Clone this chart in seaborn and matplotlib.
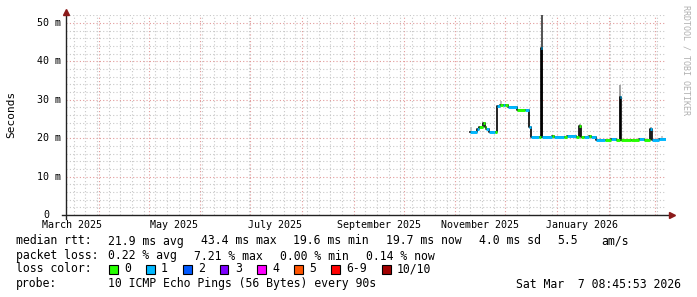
import matplotlib
matplotlib.use("Agg")
import matplotlib.pyplot as plt
import matplotlib.patches as mpatches
import seaborn as sns
import pandas as pd

# ---------------- data ----------------
START = "2025-03-12 08:45:53"
END = "2026-03-07 08:45:53"

seg_start = [
    "2025-11-09 20:00", "2025-11-14 05:00", "2025-11-15 10:00", "2025-11-17 19:00",
    "2025-11-19 00:00", "2025-11-19 14:00", "2025-11-21 10:00", "2025-11-25 00:00",
    "2025-11-26 05:00", "2025-11-27 17:00", "2025-11-29 12:00", "2025-12-01 00:00",
    "2025-12-02 19:00", "2025-12-08 05:00", "2025-12-13 00:00", "2025-12-15 10:00",
    "2025-12-16 14:00", "2025-12-21 10:00", "2025-12-22 06:00", "2025-12-23 06:00",
    "2025-12-29 05:00", "2025-12-30 10:00", "2026-01-05 10:00", "2026-01-07 05:00",
    "2026-01-12 14:00", "2026-01-14 10:00", "2026-01-15 14:00", "2026-01-17 10:00",
    "2026-01-20 10:00", "2026-01-21 14:00", "2026-01-24 14:00", "2026-01-30 00:00",
    "2026-02-02 14:00", "2026-02-05 14:00", "2026-02-07 17:00", "2026-02-08 07:00",
    "2026-02-14 14:00", "2026-02-19 10:00", "2026-02-22 10:00", "2026-02-26 00:00",
    "2026-02-27 05:00", "2026-03-03 10:00",
]
seg_median = [
    21.5, 22.4, 23.0, 23.9,
    23.0, 22.5, 21.5, 21.5,
    28.4, 28.7, 28.6, 28.6,
    28.0, 27.3, 27.3, 23.0,
    20.4, 20.4, 43.4, 20.4,
    20.5, 20.4, 20.4, 20.5,
    20.4, 23.3, 20.4, 20.4,
    20.5, 20.4, 19.6, 19.6,
    19.7, 19.6, 30.8, 19.6,
    19.6, 19.7, 19.6, 22.5,
    19.6, 19.7,
]
seg_loss = [
    "1", "1", "0", "0",
    "0", "1", "1", "0",
    "1", "0", "1", "0",
    "1", "0", "1", "1",
    "1", "0", "1", "1",
    "0", "1", "0", "1",
    "0", "0", "0", "1",
    "0", "1", "1", "0",
    "1", "0", "1", "0",
    "0", "1", "0", "1",
    "1", "1",
]

smoke_time = ["2025-11-10 06:00", "2025-11-28 12:00", "2025-12-22 18:00",
              "2026-01-14 20:00", "2026-02-08 00:00", "2026-02-26 12:00",
              "2026-03-05 00:00"]
smoke_low = [21.5, 28.7, 20.4, 20.4, 19.6, 19.6, 19.7]
smoke_high = [23.0, 29.8, 52.0, 23.6, 33.9, 22.8, 20.6]
smoke_shade = ["#bbbbbb", "#aaaaaa", "#222222", "#999999", "#888888", "#999999", "#bbbbbb"]

y_ticks = [0, 10, 20, 30, 40, 50]
y_tick_labels = ["0", "10 m", "20 m", "30 m", "40 m", "50 m"]
x_label_pos = ["2025-03-16", "2025-05-16", "2025-07-16", "2025-09-16",
               "2025-11-16", "2026-01-16"]
x_label_text = ["March 2025", "May 2025", "July 2025", "September 2025",
                "November 2025", "January 2026"]

loss_names = ["0", "1", "2", "3", "4", "5", "6-9", "10/10"]
loss_colors = ["#26ff00", "#00b8ff", "#0059ff", "#7e00ff", "#ff00ff",
               "#ff5500", "#ff0000", "#a10000"]

rtt_stats = ["21.9 ms avg", "43.4 ms max", "19.6 ms min", "19.7 ms now",
             "4.0 ms sd", "5.5", "am/s"]
loss_stats = ["0.22 % avg", "7.21 % max", "0.00 % min", "0.14 % now"]
probe_text = "10 ICMP Echo Pings (56 Bytes) every 90s"
stamp_text = "Sat Mar  7 08:45:53 2026"

# ---------------- figure ----------------
plt.rcParams["font.family"] = ["DejaVu Sans Mono"]
W, H = 697, 297
fig = plt.figure(figsize=(W / 100, H / 100), dpi=100)
fig.patch.set_facecolor("white")
ax = fig.add_axes([66 / W, 82 / H, 600 / W, 200 / H])
ax.set_facecolor("white")

t0, t1 = pd.Timestamp(START), pd.Timestamp(END)
ax.set_xlim(t0, t1)
ax.set_ylim(0, 52.08)

# grid
month_starts = pd.date_range("2025-04-01", "2026-03-01", freq="MS")
mondays = pd.date_range("2025-03-17", "2026-03-07", freq="W-MON")
ax.set_xticks(month_starts)
ax.set_xticks(mondays, minor=True)
ax.set_yticks(y_ticks)
ax.set_yticks(range(0, 53, 2), minor=True)
ax.tick_params(which="both", length=0, labelbottom=False, labelleft=False)
ax.grid(which="minor", color="#c8c8c8", linestyle=(0, (1, 2)), lw=0.8)
ax.grid(which="major", color="#e29a9a", linestyle=(0, (1, 2)), lw=0.8)
ax.set_axisbelow(True)
for s in ax.spines.values():
    s.set_visible(False)

# smoke
ax.vlines(pd.to_datetime(smoke_time, format="mixed"), smoke_low, smoke_high,
          colors=smoke_shade, lw=1.1, zorder=2)

# median step line (black connectors)
times = pd.to_datetime(seg_start + [END], format="mixed")
df_med = pd.DataFrame({"time": times, "rtt": seg_median + [seg_median[-1]]})
sns.lineplot(data=df_med, x="time", y="rtt", drawstyle="steps-post", color="black",
             lw=1.2, estimator=None, ax=ax, zorder=3)

# loss-coloured median segments
rows = []
for i, (v, l) in enumerate(zip(seg_median, seg_loss)):
    rows.append({"seg": i, "time": times[i], "rtt": v, "loss": l})
    rows.append({"seg": i, "time": times[i + 1], "rtt": v, "loss": l})
df_seg = pd.DataFrame(rows)
sns.lineplot(data=df_seg, x="time", y="rtt", hue="loss", units="seg", estimator=None,
             palette={"0": loss_colors[0], "1": loss_colors[1]}, lw=2.1,
             legend=False, ax=ax, zorder=4, solid_capstyle="butt")
ax.set_xlabel("")
ax.set_ylabel("")

# axes lines and arrows
ax.plot([0, 0], [-0.02, 1.0], transform=ax.transAxes, color="#222222", lw=1,
        clip_on=False, zorder=5)
ax.plot([-0.007, 1.005], [0, 0], transform=ax.transAxes, color="#222222", lw=1,
        clip_on=False, zorder=5)
ax.plot([0], [1.015], marker="^", transform=ax.transAxes, color="#8b1a1a",
        markersize=4, clip_on=False, zorder=6)
ax.plot([1.01], [0], marker=">", transform=ax.transAxes, color="#8b1a1a",
        markersize=4, clip_on=False, zorder=6)

# y tick labels
ytr = ax.get_yaxis_transform()
for v, lab in zip(y_ticks, y_tick_labels):
    if lab == "0":
        ax.text((46 - 66) / 600, v, lab, transform=ytr, ha="center",
                va="center", fontsize=7.2, color="black")
    else:
        ax.text((61 - 66) / 600, v, lab, transform=ytr, ha="right", va="center",
                fontsize=7.2, color="black")

# x labels
xtr = ax.get_xaxis_transform()
for d, lab in zip(x_label_pos, x_label_text):
    ax.text(pd.Timestamp(d), -10 / 200, lab, transform=xtr, ha="center", va="center",
            fontsize=7.2, color="black")


def ft(x, y, s, **kw):
    kw.setdefault("fontsize", 8.3)
    kw.setdefault("ha", "left")
    kw.setdefault("va", "center")
    fig.text(x / W, 1 - y / H, s, color=kw.pop("color", "black"), **kw)


ft(11, 114, "Seconds", rotation=90, ha="center", fontsize=8.0)
ft(686, 5, "RRDTOOL / TOBI OETIKER", rotation=270, ha="center", va="top",
   fontsize=6.0, color="#b0b0b0")

# legend block
y1, y2, y3, y4 = 241, 256, 269, 284
ft(16, y1, "median rtt:")
for x, s in zip([108, 201, 293, 386, 479, 557, 601], rtt_stats):
    ft(x, y1, s)
ft(16, y2, "packet loss:")
for x, s in zip([108, 194, 280, 366], loss_stats):
    ft(x, y2, s)
ft(16, y3, "loss color:")
box_x = [109, 146, 183, 220, 257, 294, 331, 382]
for bx, c, name in zip(box_x, loss_colors, loss_names):
    fig.add_artist(mpatches.Rectangle((bx / W, 1 - (y3 + 4.5) / H), 8.5 / W, 9 / H,
                                      transform=fig.transFigure, facecolor=c,
                                      edgecolor="black", lw=0.8))
    ft(bx + 15, y3, name)
ft(16, y4, "probe:")
ft(108, y4, probe_text)
ft(681, y4, stamp_text, ha="right")

fig.savefig("out.png", dpi=100, facecolor="white")
